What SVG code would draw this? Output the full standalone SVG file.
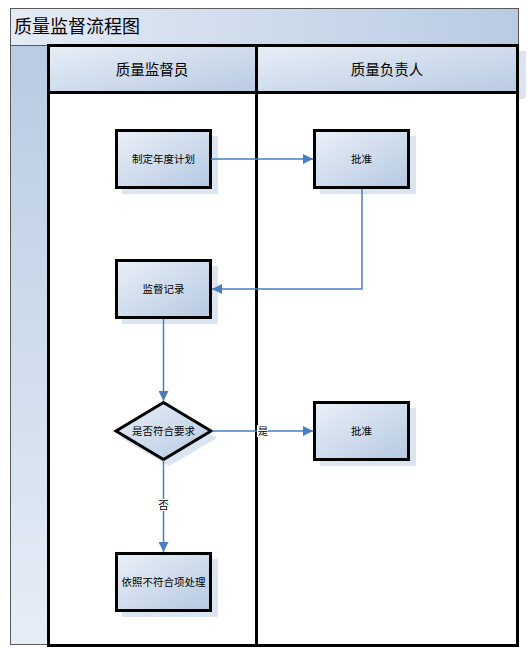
<svg xmlns="http://www.w3.org/2000/svg" width="532" height="649" viewBox="0 0 532 649">
<defs>
<linearGradient id="gTitle" x1="0" y1="0" x2="1" y2="0">
<stop offset="0" stop-color="#e4ebf5"/><stop offset="1" stop-color="#b8cbe3"/>
</linearGradient>
<linearGradient id="gBand" x1="0" y1="0" x2="0" y2="1">
<stop offset="0" stop-color="#b8cbe3"/><stop offset="1" stop-color="#e6edf6"/>
</linearGradient>
<linearGradient id="gHead" x1="0" y1="0" x2="1" y2="1">
<stop offset="0" stop-color="#e8eef7"/><stop offset="1" stop-color="#b8cbe3"/>
</linearGradient>
<linearGradient id="gNode" x1="0" y1="0" x2="1" y2="1">
<stop offset="0" stop-color="#eaf0f8"/><stop offset="1" stop-color="#b5c9e2"/>
</linearGradient>
<marker id="arr" viewBox="0 0 10 10" refX="10" refY="5" markerWidth="8" markerHeight="8" markerUnits="userSpaceOnUse" orient="auto">
<path d="M0,0 L10,5 L0,10 z" fill="#4a7ebb"/>
</marker>
<marker id="arr2" viewBox="0 0 10 10" refX="10" refY="5" markerWidth="10" markerHeight="10" markerUnits="userSpaceOnUse" orient="auto">
<path d="M0,0 L10,5 L0,10 z" fill="#4a7ebb"/>
</marker>
</defs>
<style>
.box{fill:url(#gNode);stroke:#000;stroke-width:3}
.sh{fill:#dbe5f1}
.t{font-family:"Liberation Sans","Noto Sans CJK SC",sans-serif;fill:#000}
.nt{font-size:10.5px;text-anchor:middle}
.ln{fill:none;stroke:#4a7ebb;stroke-width:1.5}
</style>
<rect width="532" height="649" fill="#fff"/>
<g id="pool">
<rect x="10.5" y="8.5" width="508" height="37" fill="url(#gTitle)" stroke="#5a5a5a" stroke-width="1"/>
<text class="t" x="14" y="33" font-size="18">质量监督流程图</text>
<rect x="10.5" y="45.5" width="38" height="599" fill="url(#gBand)" stroke="#5a5a5a" stroke-width="1"/>
</g>
<g id="lane1">
<rect x="518" y="51" width="8" height="47" fill="#dbe5f1"/>
<rect x="54" y="93" width="470" height="6" fill="#dbe5f1"/>
<rect x="48.5" y="45.5" width="208" height="600" fill="#fff" stroke="#000" stroke-width="3"/>
<rect x="48.5" y="45.5" width="208" height="47" fill="url(#gHead)" stroke="#000" stroke-width="3"/>
<text class="t" x="152" y="75" font-size="14.5" text-anchor="middle">质量监督员</text>
</g>
<g id="lane2">
<rect x="256.5" y="45.5" width="261" height="600" fill="#fff" stroke="#000" stroke-width="3"/>
<rect x="256.5" y="45.5" width="261" height="47" fill="url(#gHead)" stroke="#000" stroke-width="3"/>
<text class="t" x="387" y="75" font-size="14.5" text-anchor="middle">质量负责人</text>
</g>
<g id="n1">
<rect class="sh" x="122" y="136" width="96" height="58"/>
<rect class="box" x="116.5" y="130.5" width="94" height="57"/>
<text class="t nt" x="163.5" y="163">制定年度计划</text>
</g>
<g id="n2">
<rect class="sh" x="320" y="136" width="96" height="58"/>
<rect class="box" x="314.5" y="130.5" width="94" height="57"/>
<text class="t nt" x="361.5" y="163">批准</text>
</g>
<g id="n3">
<rect class="sh" x="122" y="266" width="96" height="58"/>
<rect class="box" x="116.5" y="260.5" width="94" height="57"/>
<text class="t nt" x="163.5" y="293">监督记录</text>
</g>
<g id="n4">
<path class="sh" d="M169,409 L217,438 L169,466 L121,438 z"/>
<path d="M163.5,402.5 L211,431 L163.5,459.5 L116,431 z" fill="url(#gNode)" stroke="#000" stroke-width="3"/>
<text class="t nt" x="163.5" y="435">是否符合要求</text>
</g>
<g id="n5">
<rect class="sh" x="320" y="408" width="96" height="58"/>
<rect class="box" x="314.5" y="402.5" width="94" height="57"/>
<text class="t nt" x="361.5" y="435">批准</text>
</g>
<g id="n6">
<rect class="sh" x="122" y="559" width="96" height="58"/>
<rect class="box" x="116.5" y="553.5" width="94" height="57"/>
<text class="t nt" x="163.5" y="586">依照不符合项处理</text>
</g>
<g id="connectors">
<path class="ln" d="M211,159 H313" marker-end="url(#arr2)"/>
<path class="ln" d="M362,189 V289 H212" marker-end="url(#arr2)"/>
<path class="ln" d="M163.5,319 V401" marker-end="url(#arr2)"/>
<path class="ln" d="M212,431 H313" marker-end="url(#arr2)"/>
<path class="ln" d="M163.5,460 V552" marker-end="url(#arr2)"/>
<rect x="257" y="425" width="11" height="12" fill="#fff"/>
<text class="t" x="263" y="435" font-size="10.5" text-anchor="middle">是</text>
<rect x="158" y="499" width="11" height="12" fill="#fff"/>
<text class="t" x="163.5" y="509" font-size="10.5" text-anchor="middle">否</text>
</g>
</svg>
